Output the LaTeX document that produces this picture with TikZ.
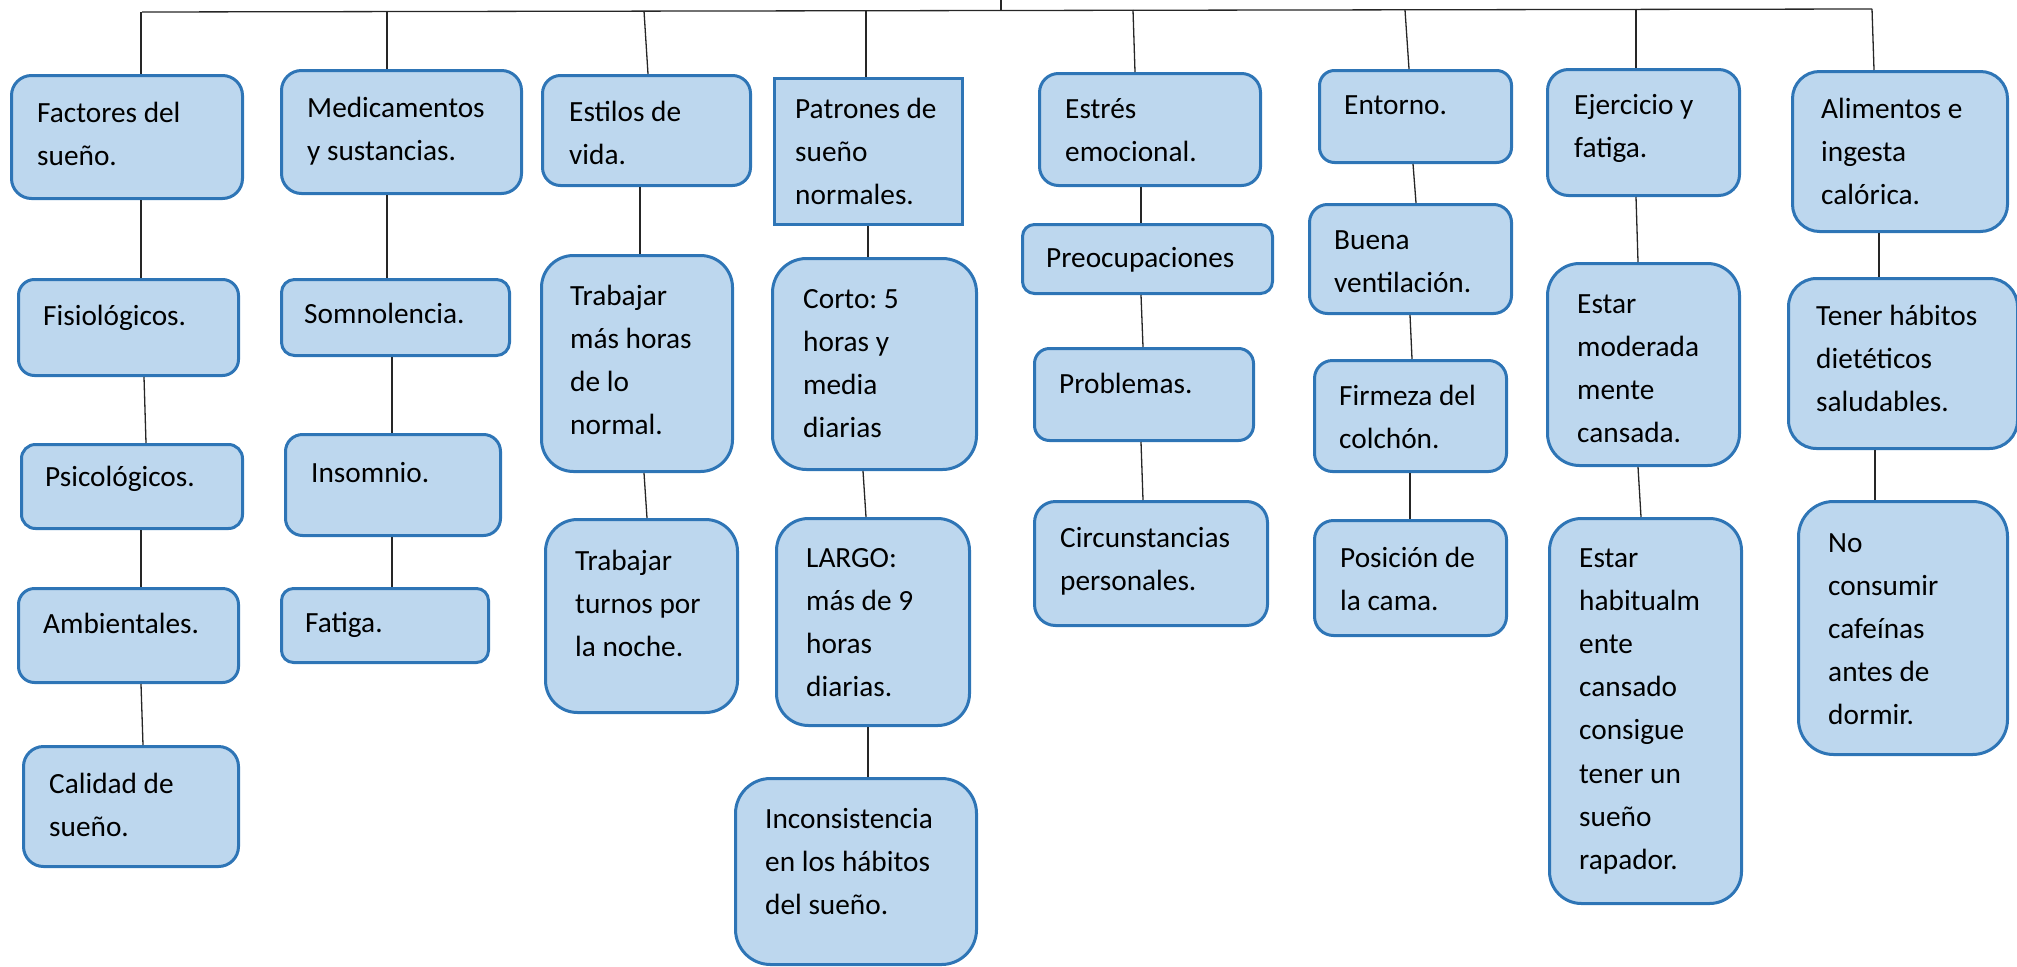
\documentclass[tikz,border=0pt]{standalone}
\usepackage{fontspec}
\setmainfont{Carlito}
\frenchspacing
\definecolor{boxfill}{HTML}{BDD7EE}
\definecolor{boxline}{HTML}{2E75B6}
\newcommand\lns[1]{\vtop{\baselineskip=43.2pt\lineskiplimit=-100pt\halign{##\hfil\cr#1\crcr}}}
\begin{document}
\begin{tikzpicture}[x=1pt,y=-1pt,
  box/.style={draw=boxline,fill=boxfill,line width=3pt,anchor=north west,inner sep=0pt},
  txt/.style={anchor=base west,inner sep=0pt,font=\fontsize{29.3}{43.2}\selectfont},
  conn/.style={draw=black!85,line width=1.3pt}]
\useasboundingbox (0,0) rectangle (2017,966);
% boxes
\node[box,rounded corners=20pt,minimum width=231pt,minimum height=123pt] (fac) at (10,74) {};
\node[box,rounded corners=16pt,minimum width=220pt,minimum height=96pt] (fis) at (17,278) {};
\node[box,rounded corners=14pt,minimum width=221pt,minimum height=84pt] (psi) at (20,443) {};
\node[box,rounded corners=16pt,minimum width=220pt,minimum height=94pt] (amb) at (17,587) {};
\node[box,rounded corners=20pt,minimum width=215pt,minimum height=120pt] (cal) at (22,745) {};
\node[box,rounded corners=20pt,minimum width=240pt,minimum height=123pt] (med) at (280,69) {};
\node[box,rounded corners=13pt,minimum width=228pt,minimum height=76pt] (som) at (280,278) {};
\node[box,rounded corners=17pt,minimum width=215pt,minimum height=101pt] (ins) at (284,433) {};
\node[box,rounded corners=12pt,minimum width=207pt,minimum height=74pt] (fat) at (280,587) {};
\node[box,rounded corners=18pt,minimum width=208pt,minimum height=110pt] (est) at (541,74) {};
\node[box,rounded corners=32pt,minimum width=191pt,minimum height=216pt] (trA) at (540,254) {};
\node[box,rounded corners=32pt,minimum width=192pt,minimum height=193pt] (trB) at (544,518) {};
\node[box,minimum width=188pt,minimum height=146pt] (pat) at (773,77) {};
\node[box,rounded corners=34pt,minimum width=204pt,minimum height=211pt] (cor) at (771,257) {};
\node[box,rounded corners=32pt,minimum width=193pt,minimum height=207pt] (lar) at (775,517) {};
\node[box,rounded corners=35pt,minimum width=241pt,minimum height=186pt] (inc) at (734,777) {};
\node[box,rounded corners=19pt,minimum width=221pt,minimum height=112pt] (estr) at (1038,72) {};
\node[box,rounded corners=12pt,minimum width=250pt,minimum height=69pt] (pre) at (1021,223) {};
\node[box,rounded corners=15pt,minimum width=219pt,minimum height=92pt] (pro) at (1033,347) {};
\node[box,rounded corners=21pt,minimum width=233pt,minimum height=124pt] (cir) at (1033,500) {};
\node[box,rounded corners=15pt,minimum width=192pt,minimum height=92pt] (ent) at (1318,69) {};
\node[box,rounded corners=18pt,minimum width=202pt,minimum height=109pt] (bue) at (1308,203) {};
\node[box,rounded corners=18pt,minimum width=192pt,minimum height=111pt] (fir) at (1313,359) {};
\node[box,rounded corners=19pt,minimum width=192pt,minimum height=115pt] (pos) at (1313,519) {};
\node[box,rounded corners=21pt,minimum width=192pt,minimum height=126pt] (eje) at (1546,68) {};
\node[box,rounded corners=32pt,minimum width=192pt,minimum height=202pt] (mod) at (1546,262) {};
\node[box,rounded corners=32pt,minimum width=192pt,minimum height=385pt] (hab) at (1548,517) {};
\node[box,rounded corners=27pt,minimum width=215pt,minimum height=160pt] (ali) at (1791,70) {};
\node[box,rounded corners=28pt,minimum width=229pt,minimum height=170pt] (ten) at (1787,277) {};
\node[box,rounded corners=35pt,minimum width=209pt,minimum height=253pt] (noc) at (1797,500) {};
% texts
\node[txt] (facT) at (37,122) {\lns{Factores del\cr sueño.}};
\node[txt] (fisT) at (43,325) {\lns{Fisiológicos.}};
\node[txt] (psiT) at (45,486) {\lns{Psicológicos.}};
\node[txt] (ambT) at (43,633) {\lns{Ambientales.}};
\node[txt] (calT) at (49,793) {\lns{Calidad de\cr sueño.}};
\node[txt] (medT) at (307,117) {\lns{Medicamentos\cr y sustancias.}};
\node[txt] (somT) at (304,323) {\lns{Somnolencia.}};
\node[txt] (insT) at (311,482) {\lns{Insomnio.}};
\node[txt] (fatT) at (305,632) {\lns{Fatiga.}};
\node[txt] (estT) at (569,121) {\lns{Estilos de\cr vida.}};
\node[txt] (trAT) at (570,305) {\lns{Trabajar\cr más horas\cr de lo\cr normal.}};
\node[txt] (trBT) at (575,570) {\lns{Trabajar\cr turnos por\cr la noche.}};
\node[txt] (patT) at (795,118) {\lns{Patrones de\cr sueño\cr normales.}};
\node[txt] (corT) at (803,308) {\lns{Corto: 5\cr horas y\cr media\cr diarias}};
\node[txt] (larT) at (806,567) {\lns{LARGO:\cr más de 9\cr horas\cr diarias.}};
\node[txt] (incT) at (765,828) {\lns{Inconsistencia\cr en los hábitos\cr del sueño.}};
\node[txt] (estrT) at (1065,118) {\lns{Estrés\cr emocional.}};
\node[txt] (preT) at (1046,267) {\lns{Preocupaciones}};
\node[txt] (proT) at (1059,393) {\lns{Problemas.}};
\node[txt] (cirT) at (1060,547) {\lns{Circunstancias\cr personales.}};
\node[txt] (entT) at (1344,114) {\lns{Entorno.}};
\node[txt] (bueT) at (1334,249) {\lns{Buena\cr ventilación.}};
\node[txt] (firT) at (1339,405) {\lns{Firmeza del\cr colchón.}};
\node[txt] (posT) at (1340,567) {\lns{Posición de\cr la cama.}};
\node[txt] (ejeT) at (1574,114) {\lns{Ejercicio y\cr fatiga.}};
\node[txt] (modT) at (1577,313) {\lns{Estar\cr moderada\cr mente\cr cansada.}};
\node[txt] (habT) at (1579,567) {\lns{Estar\cr habitualm\cr ente\cr cansado\cr consigue\cr tener un\cr sueño\cr rapador.}};
\node[txt] (aliT) at (1821,118) {\lns{Alimentos e\cr ingesta\cr calórica.}};
\node[txt] (tenT) at (1816,325) {\lns{Tener hábitos\cr dietéticos\cr saludables.}};
\node[txt] (nocT) at (1828,552) {\lns{No\cr consumir\cr cafeínas\cr antes de\cr dormir.}};
% top bar
\coordinate (root) at (1001,0);
\coordinate (barL) at (142,12);
\coordinate (barR) at (1872,9);
\draw[conn] (barL) -- (barR);
\draw[conn] (root) -- (1001,11);
\draw[conn] (141,12) -- (fac.north -| 141,0);
\draw[conn] (387,11) -- (med.north -| 387,0);
\draw[conn] (644,11) -- (est.north -| 648,0);
\draw[conn] (866,11) -- (pat.north -| 866,0);
\draw[conn] (1133,10) -- (estr.north -| 1135,0);
\draw[conn] (1405,10) -- (ent.north -| 1409,0);
\draw[conn] (1636,9) -- (eje.north -| 1636,0);
\draw[conn] (1872,9) -- (ali.north -| 1874,0);
% column connectors
\draw[conn] (fac.south -| 141,0) -- (fis.north -| 141,0);
\draw[conn] (fis.south -| 144,0) -- (psi.north -| 146,0);
\draw[conn] (psi.south -| 141,0) -- (amb.north -| 141,0);
\draw[conn] (amb.south -| 141,0) -- (cal.north -| 143,0);
\draw[conn] (med.south -| 387,0) -- (som.north -| 387,0);
\draw[conn] (som.south -| 392,0) -- (ins.north -| 392,0);
\draw[conn] (ins.south -| 392,0) -- (fat.north -| 392,0);
\draw[conn] (est.south -| 640,0) -- (trA.north -| 640,0);
\draw[conn] (trA.south -| 644,0) -- (trB.north -| 647,0);
\draw[conn] (pat.south -| 868,0) -- (cor.north -| 868,0);
\draw[conn] (cor.south -| 863,0) -- (lar.north -| 866,0);
\draw[conn] (lar.south -| 868,0) -- (inc.north -| 868,0);
\draw[conn] (estr.south -| 1141,0) -- (pre.north -| 1141,0);
\draw[conn] (pre.south -| 1141,0) -- (pro.north -| 1143,0);
\draw[conn] (pro.south -| 1141,0) -- (cir.north -| 1143,0);
\draw[conn] (ent.south -| 1413,0) -- (bue.north -| 1416,0);
\draw[conn] (bue.south -| 1410,0) -- (fir.north -| 1412,0);
\draw[conn] (fir.south -| 1410,0) -- (pos.north -| 1410,0);
\draw[conn] (eje.south -| 1636,0) -- (mod.north -| 1638,0);
\draw[conn] (mod.south -| 1638,0) -- (hab.north -| 1641,0);
\draw[conn] (ali.south -| 1879,0) -- (ten.north -| 1879,0);
\draw[conn] (ten.south -| 1875,0) -- (noc.north -| 1875,0);
\end{tikzpicture}
\end{document}
